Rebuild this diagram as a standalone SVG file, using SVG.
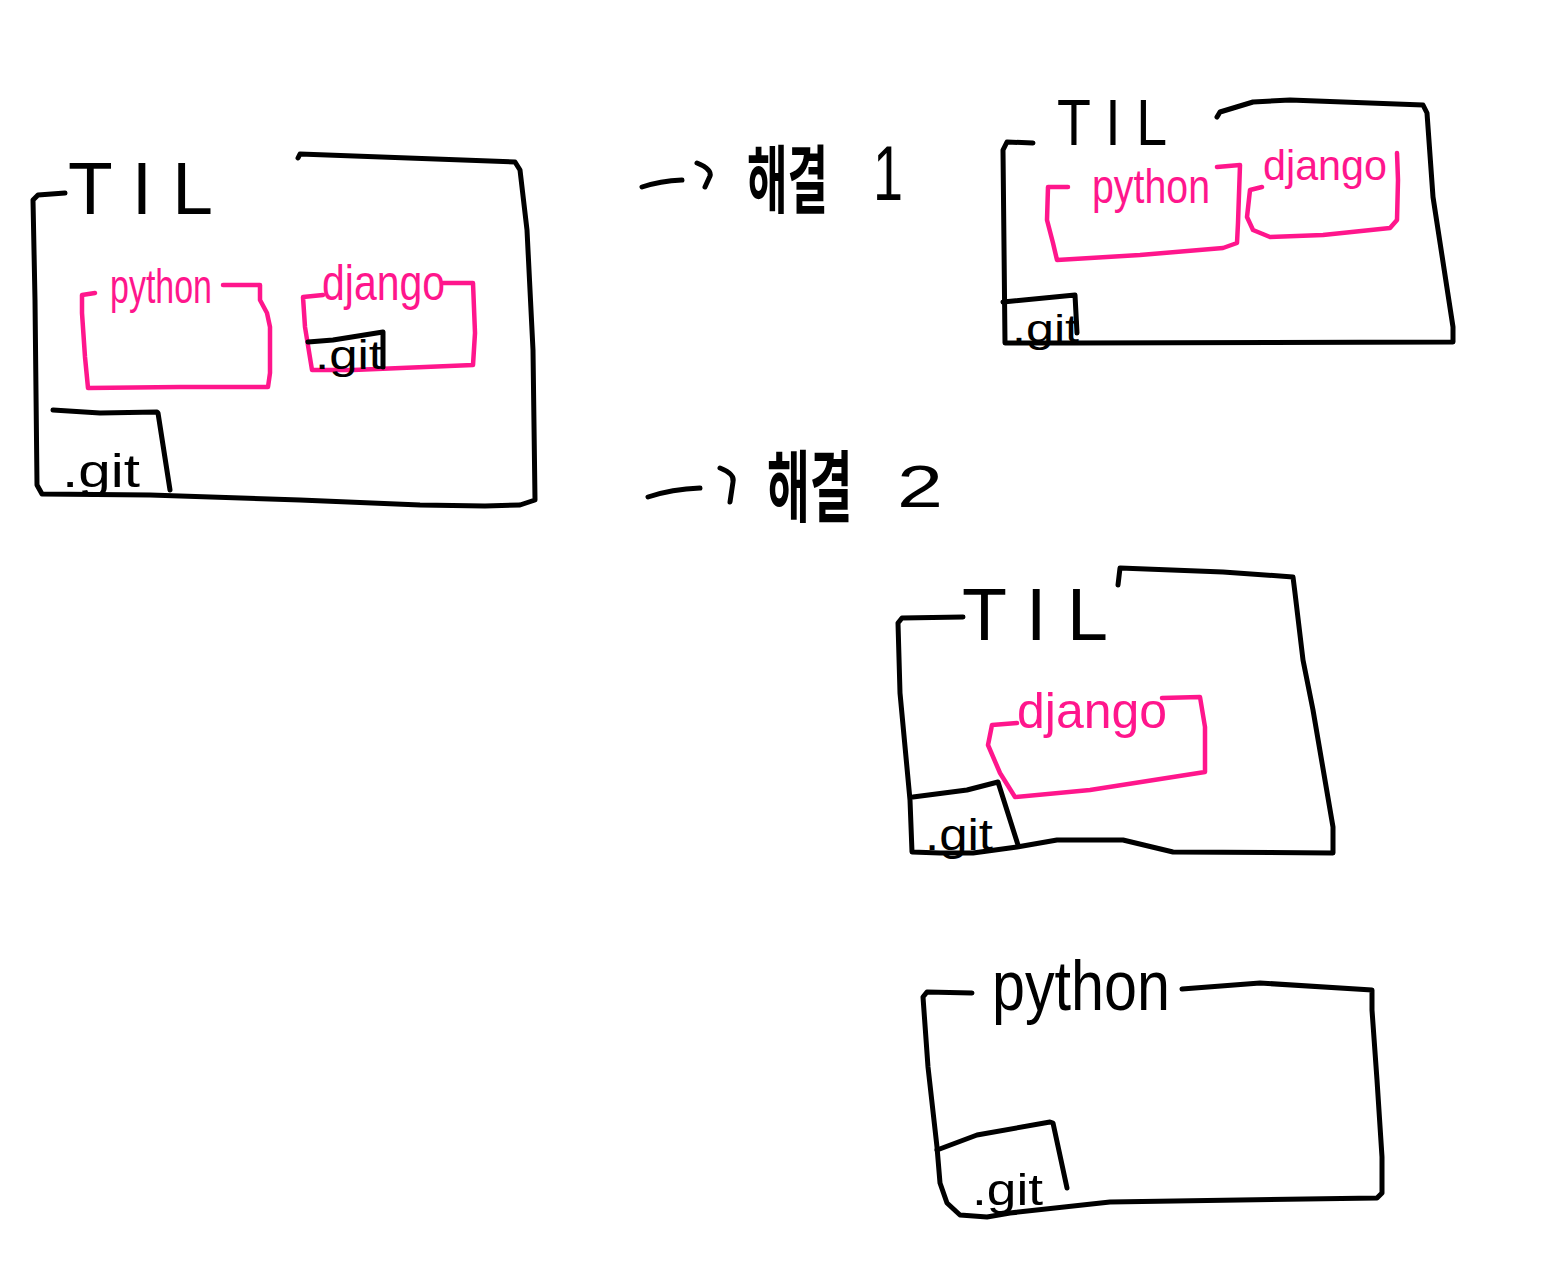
<svg xmlns="http://www.w3.org/2000/svg" width="1555" height="1282" viewBox="0 0 1555 1282">
<style>
.ink{fill:none;stroke:#000;stroke-width:5;stroke-linecap:round;stroke-linejoin:round}
.pink{fill:none;stroke:#ff168c;stroke-width:4.5;stroke-linecap:round;stroke-linejoin:round}
.tb{font-family:"Liberation Sans","DejaVu Sans",sans-serif;fill:#000}
.tp{font-family:"Liberation Sans","DejaVu Sans",sans-serif;fill:#ff168c}
.kr{font-family:"Liberation Sans","Noto Sans CJK KR",sans-serif;fill:#000;font-weight:bold}
</style>
<rect width="1555" height="1282" fill="#fff"/>

<g id="folder-til-original">
<path class="ink" d="M298,158 L300,154 L515,162 L520,170 L527,230 L533,350 L535,500 L520,505 L485,506 L420,505 L300,500 L150,495 L42,494 L37,485 L35,300 L33,200 L38,195 L65,193"/>
<text class="tb" x="68" y="214" font-size="75" textLength="145" lengthAdjust="spacingAndGlyphs">T I L</text>
<g id="til1-python">
<path class="pink" d="M95,293 L82,295 L82,313 L85,357 L88,388 L180,387 L268,387 L270,373 L270,327 L267,313 L260,300 L260,285 L223,285"/>
<text class="tp" x="110" y="303" font-size="48" textLength="102" lengthAdjust="spacingAndGlyphs">python</text>
</g>
<g id="til1-django">
<path class="pink" d="M323,295 L303,297 L305,327 L312,370 L353,370 L473,365 L475,333 L473,283 L443,283"/>
<text class="tp" x="322" y="300" font-size="50" textLength="123" lengthAdjust="spacingAndGlyphs">django</text>
<g id="til1-django-git">
<path class="ink" d="M308,342 L333,340 L383,332 L383,367"/>
<text class="tb" x="315" y="369" font-size="40" textLength="68" lengthAdjust="spacingAndGlyphs">.git</text>
</g>
</g>
<g id="til1-git">
<path class="ink" d="M53,410 L100,413 L157,412 L158,413 L170,490"/>
<text class="tb" x="62" y="487" font-size="46" textLength="78" lengthAdjust="spacingAndGlyphs">.git</text>
</g>
</g>

<g id="connectors">
<path class="ink" d="M642,187 Q660,181 682,180 M697,163 Q712,169 710,176 L705,187"/>
<path class="ink" d="M648,497 Q672,489 700,488 M720,468 Q735,474 733,482 L730,502"/>
</g>

<g id="label-sol1">
<text class="kr" transform="translate(747,207) scale(0.595,1)" x="0" y="0" font-size="74">해결</text>
<text class="tb" x="873" y="200" font-size="78" textLength="30" lengthAdjust="spacingAndGlyphs">1</text>
</g>
<g id="label-sol2">
<text class="kr" transform="translate(767,516) scale(0.596,1)" x="0" y="0" font-size="78">해결</text>
<text class="tb" x="897" y="507" font-size="60" textLength="46" lengthAdjust="spacingAndGlyphs">2</text>
</g>

<g id="folder-til-sol1">
<path class="ink" d="M1033,143 L1007,142 L1003,150 L1005,343 L1073,343 L1453,342 L1453,327 L1433,197 L1427,113 L1423,105 L1290,100 L1253,102 L1220,112 L1217,117"/>
<text class="tb" x="1057" y="145" font-size="65" textLength="110" lengthAdjust="spacingAndGlyphs">T I L</text>
<g id="til2-python">
<path class="pink" d="M1068,187 L1048,187 L1047,220 L1053,243 L1057,260 L1140,255 L1223,248 L1237,243 L1238,223 L1240,165 L1217,167"/>
<text class="tp" x="1092" y="203" font-size="48" textLength="118" lengthAdjust="spacingAndGlyphs">python</text>
</g>
<g id="til2-django">
<path class="pink" d="M1262,187 L1250,190 L1247,217 L1253,230 L1270,237 L1323,235 L1390,228 L1397,220 L1398,180 L1397,153"/>
<text class="tp" x="1263" y="180" font-size="42" textLength="124" lengthAdjust="spacingAndGlyphs">django</text>
</g>
<g id="til2-git">
<path class="ink" d="M1003,302 L1075,295 L1077,333"/>
<text class="tb" x="1012" y="342" font-size="38" textLength="67" lengthAdjust="spacingAndGlyphs">.git</text>
</g>
</g>

<g id="folder-til-sol2">
<path class="ink" d="M963,617 L902,618 L898,623 L900,693 L910,800 L912,852 L940,853 L973,853 L1017,847 L1057,840 L1123,840 L1173,852 L1333,853 L1333,827 L1313,710 L1303,660 L1295,593 L1293,577 L1223,572 L1120,568 L1118,585"/>
<text class="tb" x="962" y="640" font-size="75" textLength="146" lengthAdjust="spacingAndGlyphs">T I L</text>
<g id="til3-django">
<path class="pink" d="M1017,723 L992,725 L988,745 L1000,773 L1015,797 L1090,790 L1205,772 L1205,727 L1200,697 L1162,698"/>
<text class="tp" x="1017" y="728" font-size="50" textLength="150" lengthAdjust="spacingAndGlyphs">django</text>
</g>
<g id="til3-git">
<path class="ink" d="M913,797 L967,790 L998,782 L1018,845"/>
<text class="tb" x="925" y="850" font-size="45" textLength="68" lengthAdjust="spacingAndGlyphs">.git</text>
</g>
</g>

<g id="folder-python">
<path class="ink" d="M972,993 L927,992 L923,997 L928,1067 L937,1147 L940,1183 L947,1203 L960,1215 L987,1217 L1010,1213 L1110,1202 L1377,1198 L1382,1193 L1382,1157 L1377,1080 L1372,1010 L1372,990 L1260,983 L1182,989"/>
<text class="tb" x="992" y="1010" font-size="70" textLength="178" lengthAdjust="spacingAndGlyphs">python</text>
<g id="python-git">
<path class="ink" d="M937,1150 L977,1135 L1050,1122 L1053,1123 L1067,1188"/>
<text class="tb" x="972" y="1205" font-size="45" textLength="71" lengthAdjust="spacingAndGlyphs">.git</text>
</g>
</g>
</svg>
